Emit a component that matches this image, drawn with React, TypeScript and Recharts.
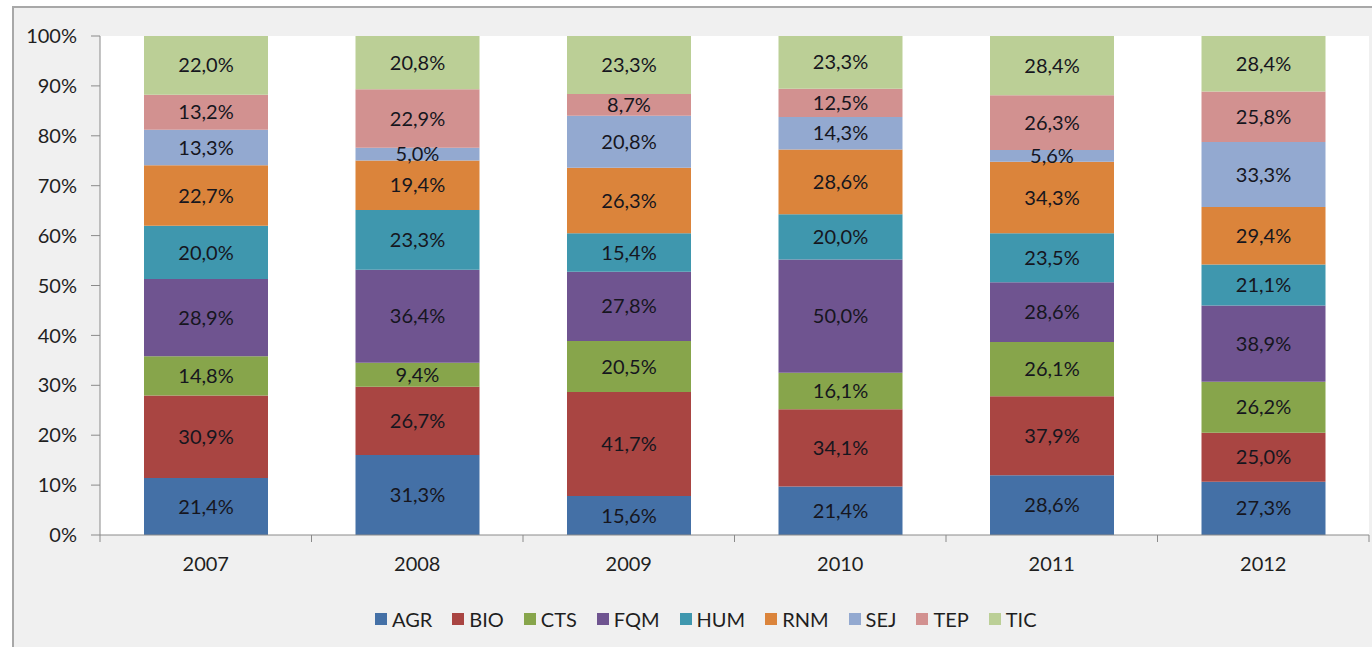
import React from 'react';
import { BarChart, Bar, XAxis, YAxis, Legend, LabelList, CartesianGrid } from 'recharts';

const years = ['2007', '2008', '2009', '2010', '2011', '2012'];
const agr = [21.4, 31.3, 15.6, 21.4, 28.6, 27.3];
const bio = [30.9, 26.7, 41.7, 34.1, 37.9, 25.0];
const cts = [14.8, 9.4, 20.5, 16.1, 26.1, 26.2];
const fqm = [28.9, 36.4, 27.8, 50.0, 28.6, 38.9];
const hum = [20.0, 23.3, 15.4, 20.0, 23.5, 21.1];
const rnm = [22.7, 19.4, 26.3, 28.6, 34.3, 29.4];
const sej = [13.3, 5.0, 20.8, 14.3, 5.6, 33.3];
const tep = [13.2, 22.9, 8.7, 12.5, 26.3, 25.8];
const tic = [22.0, 20.8, 23.3, 23.3, 28.4, 28.4];
const yTicks = [0, 0.1, 0.2, 0.3, 0.4, 0.5, 0.6, 0.7, 0.8, 0.9, 1];

const series = [
  { key: 'AGR', values: agr, color: '#4470A6' },
  { key: 'BIO', values: bio, color: '#A94542' },
  { key: 'CTS', values: cts, color: '#87A54B' },
  { key: 'FQM', values: fqm, color: '#6F5490' },
  { key: 'HUM', values: hum, color: '#3F97AE' },
  { key: 'RNM', values: rnm, color: '#DB843B' },
  { key: 'SEJ', values: sej, color: '#93A9D0' },
  { key: 'TEP', values: tep, color: '#D29190' },
  { key: 'TIC', values: tic, color: '#BBCF96' },
];

const data = years.map((year, i) => {
  const row: Record<string, any> = { year };
  series.forEach((s) => (row[s.key] = s.values[i]));
  return row;
});

const FONT = 'Lato, "Open Sans", sans-serif';
const AXIS = '#8a8a8a';
const HALF_BAND = 1269 / 12;
const X_MARGIN = 22;

const fmt = (v: any) => `${Number(v).toFixed(1).replace('.', ',')}%`;

// year label plus the small boundary ticks Excel puts between categories
const YearTick = (props: any) => {
  const { x, y, payload } = props;
  const top = y - X_MARGIN;
  const last = payload.value === years[years.length - 1];
  return (
    <g>
      <line x1={x - HALF_BAND} x2={x - HALF_BAND} y1={top} y2={top + 7} stroke={AXIS} />
      {last && <line x1={x + HALF_BAND} x2={x + HALF_BAND} y1={top} y2={top + 7} stroke={AXIS} />}
      <text x={x} y={y} dy="0.71em" textAnchor="middle" fill="#1f1f1f" fontSize={20} fontFamily={FONT}>
        {payload.value}
      </text>
    </g>
  );
};

const renderLegend = () => (
  <div style={{ display: 'flex', alignItems: 'center', height: 26, paddingLeft: 375, fontFamily: FONT, fontSize: 20, color: '#1f1f1f' }}>
    {series.map((s) => (
      <div key={s.key} style={{ display: 'flex', alignItems: 'center', marginRight: 20 }}>
        <span style={{ display: 'inline-block', width: 12, height: 12, background: s.color, marginRight: 5 }} />
        <span>{s.key}</span>
      </div>
    ))}
  </div>
);

export default function App() {
  return (
    <div style={{ position: 'absolute', left: 0, top: 0, width: 1372, height: 647, background: '#fff', overflow: 'hidden' }}>
      <div
        style={{
          position: 'absolute', left: 12, top: 6, width: 1370, height: 650,
          background: '#f0f0f0', borderTop: '2px solid #a8a8a8', borderLeft: '2px solid #a8a8a8',
        }}
      />
      <div style={{ position: 'absolute', left: 0, top: 0 }}>
        <BarChart
          width={1372}
          height={647}
          data={data}
          stackOffset="expand"
          margin={{ top: 36, right: 3, left: 40, bottom: 15 }}
        >
          <CartesianGrid fill="#ffffff" horizontal={false} vertical={false} />
          <XAxis
            dataKey="year"
            height={71}
            tickLine={false}
            tickSize={0}
            tickMargin={X_MARGIN}
            stroke={AXIS}
            tick={<YearTick />}
          />
          <YAxis
            width={60}
            domain={[0, 1]}
            ticks={yTicks}
            tickFormatter={(v: number) => `${Math.round(v * 100)}%`}
            tickSize={9}
            tickMargin={14}
            stroke={AXIS}
            tick={{ fill: '#1f1f1f', fontSize: 20, fontFamily: FONT }}
          />
          <Legend verticalAlign="bottom" content={renderLegend} wrapperStyle={{ left: 0, width: 1372 }} />
          {series.map((s) => (
            <Bar key={s.key} dataKey={s.key} stackId="a" fill={s.color} barSize={124} isAnimationActive={false}>
              <LabelList dataKey={s.key} position="center" formatter={fmt} fill="#16161e" fontSize={20} fontFamily={FONT} />
            </Bar>
          ))}
        </BarChart>
      </div>
    </div>
  );
}
